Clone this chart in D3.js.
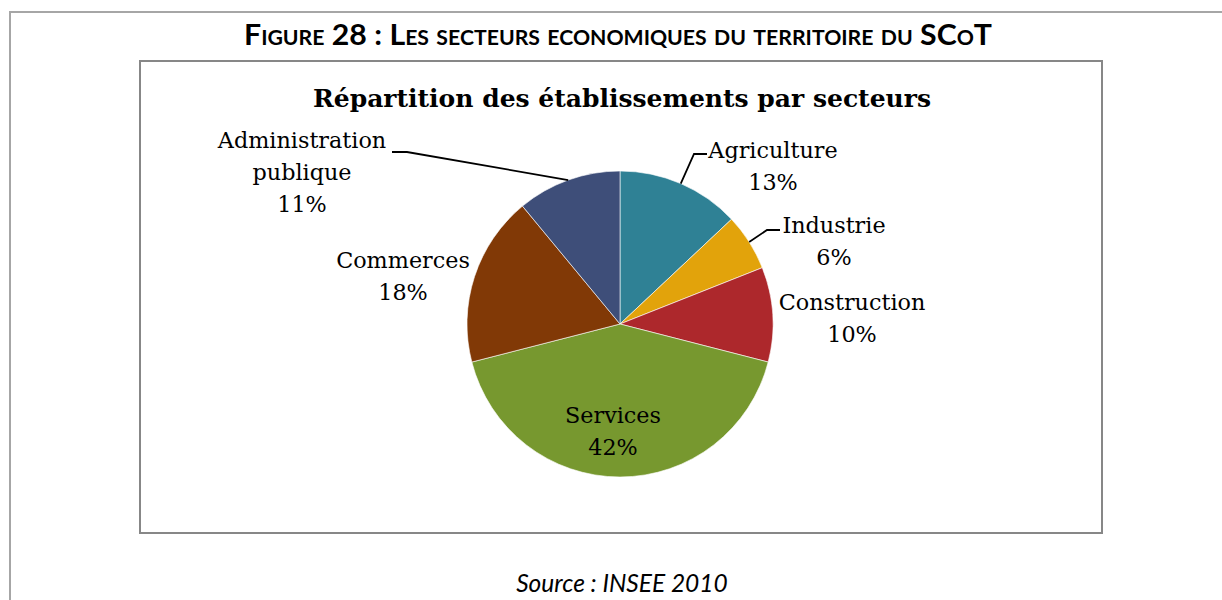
<!doctype html>
<html>
<head>
<meta charset="utf-8">
<script src="https://cdnjs.cloudflare.com/ajax/libs/d3/7.8.5/d3.min.js"></script>
<style>
body { margin: 0; background: #fff; }
svg { display: block; }
</style>
</head>
<body>
<svg id="chart" width="1222" height="600"></svg>
<script>
// data
var sectors = ["Agriculture", "Industrie", "Construction", "Services", "Commerces", "Administration publique"];
var shares = [13, 6, 10, 42, 18, 11];
var colours = ["#2f8195", "#e2a30b", "#ad282c", "#77982f", "#813906", "#3e4e79"];

// label layout (first baseline + optional leader elbow)
var labelPos = {
  "Agriculture": { x: 773, y: 158, lines: ["Agriculture"], elbow: [[707, 154], [694, 154]] },
  "Industrie": { x: 834, y: 233, lines: ["Industrie"], elbow: [[780, 230], [767, 230]] },
  "Construction": { x: 852, y: 310, lines: ["Construction"] },
  "Services": { x: 613, y: 423, lines: ["Services"] },
  "Commerces": { x: 403, y: 268, lines: ["Commerces"] },
  "Administration publique": { x: 302, y: 148, lines: ["Administration", "publique"], elbow: [[392, 152], [407, 152]] }
};

var svg = d3.select("#chart");
var cx = 620, cy = 324, r = 153;

// outer page frame
svg.append("path")
  .attr("d", "M10,600 V12 H1222")
  .attr("fill", "none")
  .attr("stroke", "#a6a6a6")
  .attr("stroke-width", 2);

svg.append("text")
  .attr("x", 618).attr("y", 45)
  .attr("text-anchor", "middle")
  .style("font-family", "Lato, 'Open Sans', sans-serif")
  .style("font-weight", "bold")
  .style("font-variant", "small-caps")
  .style("font-size", "28.5px")
  .attr("textLength", 748)
  .attr("lengthAdjust", "spacingAndGlyphs")
  .text("Figure 28 : Les secteurs economiques du territoire du SCoT");

// chart box
svg.append("rect")
  .attr("x", 140).attr("y", 61)
  .attr("width", 962).attr("height", 472)
  .attr("fill", "#fff")
  .attr("stroke", "#878787")
  .attr("stroke-width", 2);

svg.append("text")
  .attr("x", 622).attr("y", 107)
  .attr("text-anchor", "middle")
  .style("font-family", "'DejaVu Serif', serif")
  .style("font-weight", "bold")
  .style("font-size", "25px")
  .attr("textLength", 618)
  .attr("lengthAdjust", "spacingAndGlyphs")
  .text("Répartition des établissements par secteurs");

var data = sectors.map(function(s, i) { return { name: s, value: shares[i], color: colours[i] }; });

var pie = d3.pie().sort(null).value(function(d) { return d.value; });
var arc = d3.arc().innerRadius(0).outerRadius(r);
var arcs = pie(data);

var g = svg.append("g").attr("transform", "translate(" + cx + "," + cy + ")");

g.selectAll("path")
  .data(arcs)
  .enter().append("path")
  .attr("d", arc)
  .attr("fill", function(d) { return d.data.color; })
  .attr("stroke", "#fff")
  .attr("stroke-width", 0.6);

// leader lines
var line = d3.line();
arcs.forEach(function(d) {
  var p = labelPos[d.data.name];
  if (!p.elbow) return;
  var a = (d.startAngle + d.endAngle) / 2;
  var edge = [cx + r * Math.sin(a), cy - r * Math.cos(a)];
  svg.append("path")
    .attr("d", line(p.elbow.concat([edge])))
    .attr("fill", "none")
    .attr("stroke", "#000")
    .attr("stroke-width", 1.8);
});

// labels
arcs.forEach(function(d) {
  var p = labelPos[d.data.name];
  var t = svg.append("text")
    .attr("text-anchor", "middle")
    .style("font-family", "'DejaVu Serif', serif")
    .style("font-size", "22.3px")
    .attr("fill", "#000");
  p.lines.concat([d.data.value + "%"]).forEach(function(l, i) {
    t.append("tspan").attr("x", p.x).attr("y", p.y + i * 32).text(l);
  });
});

svg.append("text")
  .attr("x", 622).attr("y", 592)
  .attr("text-anchor", "middle")
  .style("font-family", "Lato, 'Open Sans', sans-serif")
  .style("font-style", "italic")
  .style("font-size", "24.5px")
  .text("Source : INSEE 2010");
</script>
</body>
</html>
